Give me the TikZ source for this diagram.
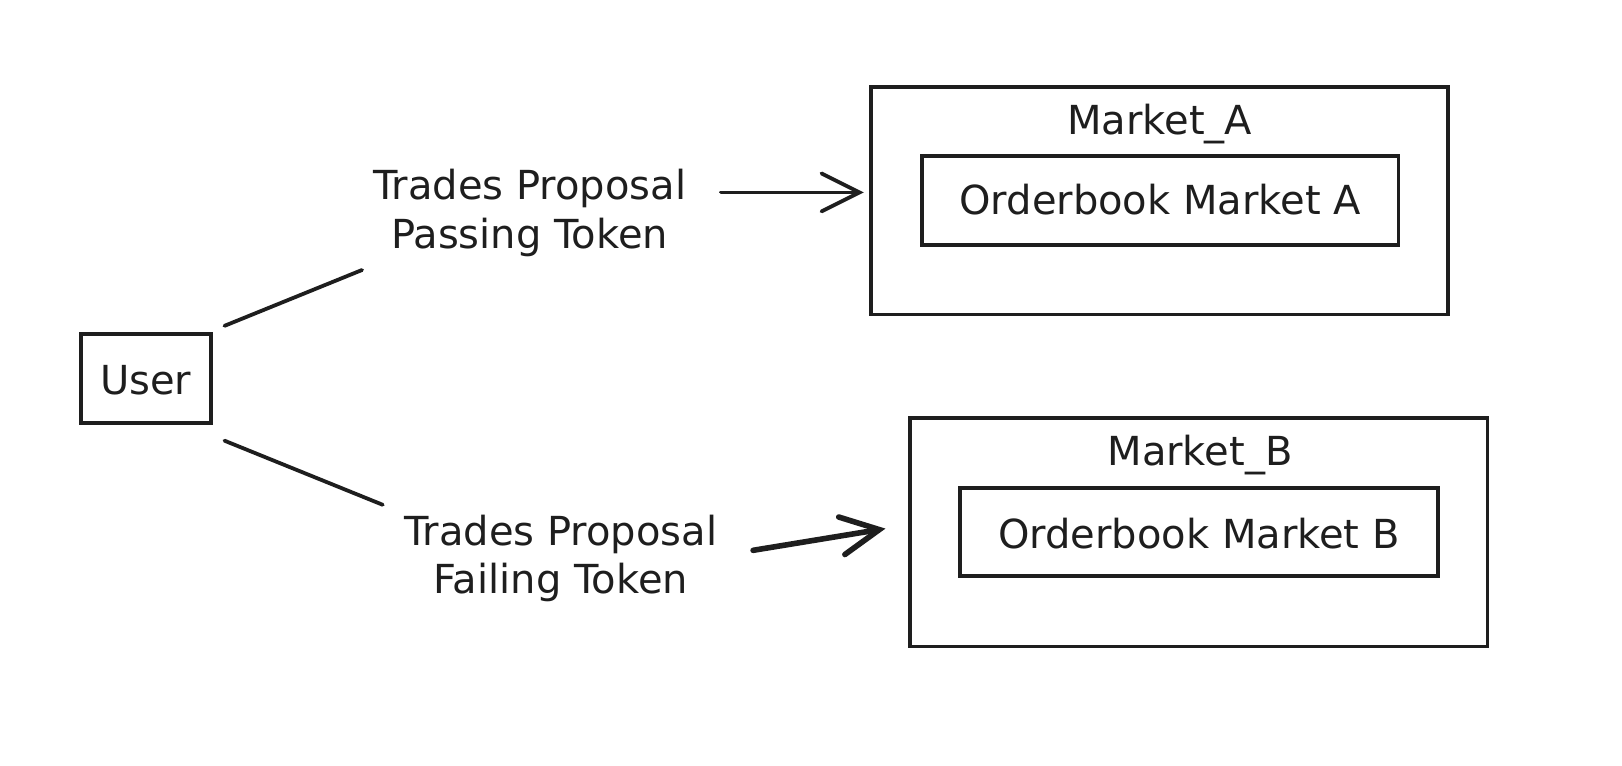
\documentclass[tikz,border=0pt]{standalone}
\usepackage{fontspec}
\setmainfont{DejaVu Sans}
\usetikzlibrary{arrows.meta}
\definecolor{ink}{HTML}{1E1E1E}
\begin{document}
\begin{tikzpicture}[x=0.5172pt,y=-0.5172pt,
  box/.style={draw=ink,line width=1.9pt,rectangle,inner sep=0pt},
  txt/.style={text=ink,font=\fontsize{20}{24.3}\selectfont,inner sep=0pt,align=center},
  link/.style={draw=ink,line width=1.9pt,line cap=round},
  arr/.style={draw=ink,line cap=round,line join=round,-{Straight Barb[length=19pt,width=19pt,line cap=round]}}]
\useasboundingbox (0,0) rectangle (1568,740.5);
% user
\node[box,minimum width=65.2pt,minimum height=44.5pt] (user) at (141,366) {};
\node[txt] (usert) at (141,368) {User};
% market A
\node[box,minimum width=288.6pt,minimum height=113.8pt] (ma) at (1121,194) {};
\node[txt] (mat) at (1121,120) {Market\_A};
\node[box,minimum width=238.4pt,minimum height=44.5pt] (oa) at (1121.5,194) {};
\node[txt] (oat) at (1121.5,193) {Orderbook Market A};
% market B
\node[box,minimum width=288.6pt,minimum height=114.3pt] (mb) at (1159,514.5) {};
\node[txt] (mbt) at (1160,440) {Market\_B};
\node[box,minimum width=238.9pt,minimum height=44pt] (ob) at (1159,514.5) {};
\node[txt] (obt) at (1159,516) {Orderbook Market B};
% labels
\node[txt] (l1) at (512,206) {Trades Proposal\\Passing Token};
\node[txt] (l2) at (542,540) {Trades Proposal\\Failing Token};
% connector points
\coordinate (u1) at (217,315);
\coordinate (p1) at (350,261);
\coordinate (q1) at (697,186);
\coordinate (t1) at (835,186);
\coordinate (u2) at (217,426);
\coordinate (p2) at (370,488);
\coordinate (q2) at (728,532);
\coordinate (t2) at (856,511);
\draw[link] (u1) -- (p1);
\draw[arr,line width=1.9pt] (q1) -- (t1);
\draw[link] (u2) -- (p2);
\draw[arr,line width=2.8pt] (q2) -- (t2);
\end{tikzpicture}
\end{document}
